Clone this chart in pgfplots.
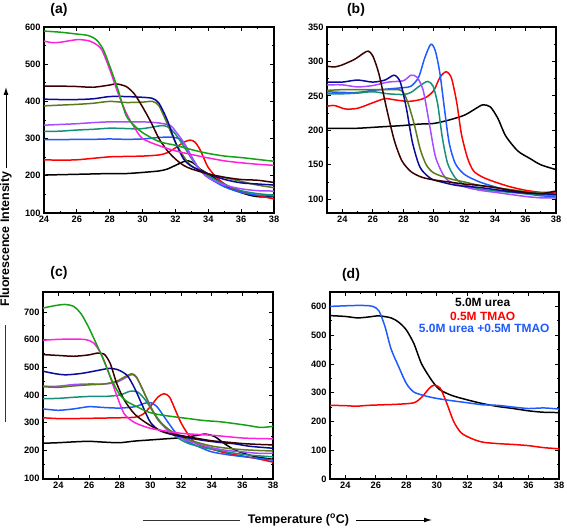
\documentclass[border=0pt]{standalone}
\usepackage{fontspec}
\setmainfont{Liberation Sans}
\usepackage{pgfplots}
\pgfplotsset{compat=1.18}
\usetikzlibrary{arrows.meta}
\definecolor{cred}{HTML}{FF0000}
\definecolor{cblue}{HTML}{1E5BFF}
\definecolor{cteal}{HTML}{17907A}
\definecolor{cpurple}{HTML}{A64DFF}
\definecolor{colive}{HTML}{5A7A1B}
\definecolor{cnavy}{HTML}{0A0A99}
\definecolor{cmaroon}{HTML}{3A0000}
\definecolor{cmagenta}{HTML}{FF22DD}
\definecolor{cgreen}{HTML}{16A016}
\pgfplotsset{
  panel/.style={
    scale only axis, anchor=south west,
    width=230bp, height=186bp,
    tick align=inside,
    xtick={24,26,...,38},
    minor x tick num=1, minor y tick num=1,
    major tick length=4bp, minor tick length=2.2bp,
    tick style={black, line width=0.8pt},
    axis line style={line width=1.3pt},
    ticklabel style={font=\fontsize{9.3}{10}\selectfont\bfseries},
    /pgf/number format/assume math mode=true,
    every axis plot/.append style={line width=1.5pt, no markers, smooth, tension=0.45, line join=round},
  }
}
\begin{document}
\begin{tikzpicture}[x=1bp,y=1bp]
\useasboundingbox (0,0) rectangle (567,528);
% ---------------- (a)
\begin{axis}[panel, at={(44bp,315bp)}, xmin=24, xmax=38, ymin=100, ymax=600, ytick={100,200,...,600}]
\addplot[black] coordinates {(24,202)(25,203)(26,204)(27,205)(28,206)(29,206)(30,209)(31,213)(31.5,218)(32,228)(32.5,238)(32.8,240)(33.1,234)(33.5,218)(34,205)(34.5,190)(35,175)(35.5,163)(36,155)(36.5,148)(37,144)(37.5,143)(38,144)};
\addplot[cred] coordinates {(24,243)(25,242)(26,243)(27,247)(28,251)(29,252)(30,253)(31,256)(31.5,262)(32,275)(32.5,290)(32.9,296)(33.2,290)(33.5,270)(33.8,240)(34,222)(34.5,195)(35,178)(35.5,165)(36,157)(37,147)(38,138)};
\addplot[cblue] coordinates {(24,297)(25,297)(26,298)(27,298)(28,299)(29,298)(30,299)(31,303)(31.8,304)(32.3,298)(32.7,275)(33,250)(33.5,215)(34,195)(35,170)(36,155)(37,148)(38,146)};
\addplot[cteal] coordinates {(24,319)(25,320)(26,323)(27,325)(28,328)(29,327)(29.8,326)(30.5,330)(31.2,335)(31.6,330)(32,312)(32.5,280)(33,245)(33.5,215)(34,200)(35,177)(36,160)(37,152)(38,148)};
\addplot[cpurple] coordinates {(24,336)(25,338)(26,340)(27,343)(28,345)(29,345)(30,345)(31,342)(31.7,335)(32,320)(32.5,290)(33,248)(33.5,215)(34,195)(35,175)(36,165)(37,160)(38,159)};
\addplot[colive] coordinates {(24,388)(25,390)(26,392)(27,395)(28,400)(29,397)(30,398)(30.6,400)(31,388)(31.5,340)(32,290)(32.5,252)(33,226)(34,205)(35,195)(36,185)(37,175)(38,168)};
\addplot[cnavy] coordinates {(24,406)(25,405)(26,405)(27,407)(28,413)(29,413)(30,411)(30.6,408)(31,395)(31.5,350)(32,290)(32.5,245)(33,225)(34,205)(35,190)(36,181)(37,178)(38,175)};
\addplot[cmaroon] coordinates {(24,441)(25,441)(26,440)(27,438)(28,444)(28.4,447)(29,440)(29.5,420)(30,385)(30.5,345)(31,300)(31.5,268)(32,245)(32.5,228)(33,218)(34,205)(35,196)(36,190)(37,188)(38,182)};
\addplot[cmagenta] coordinates {(24,562)(24.5,558)(25,559)(26,566)(26.6,564)(27,558)(27.5,540)(28,486)(28.5,423)(29,369)(29.5,330)(30,300)(31,281)(32,267)(33,257)(34,248)(35,240)(36,235)(37,231)(38,228)};
\addplot[cgreen] coordinates {(24,589)(25,586)(26,581)(26.7,577)(27.2,565)(27.6,540)(28,495)(28.5,432)(29,362)(29.5,335)(30,316)(31,292)(32,282)(33,270)(34,260)(35,253)(36,249)(37,244)(38,239)};
\end{axis}
% ---------------- (b)
\begin{axis}[panel, at={(327bp,315bp)}, width=229bp, xmin=23, xmax=38, ymin=80, ymax=350, ytick={100,150,...,350}]
\addplot[black] coordinates {(23,203)(24,203)(25,203)(26.5,205)(28,207)(29,209)(30,210)(31,215)(32,222)(32.7,231)(33.2,237)(33.7,234)(34.2,217)(34.7,192)(35.5,170)(36.3,159)(37,150)(38,143)};
\addplot[cred] coordinates {(23,235)(23.5,236)(24.2,231)(25,232)(26,240)(26.8,246)(27.5,244)(28.3,242)(29,244)(29.5,248)(30,258)(30.4,277)(30.8,285)(31.15,276)(31.5,240)(31.8,195)(32.2,160)(32.6,141)(33.2,132)(34,125)(35,118)(36,113)(37,110)(38,110)};
\addplot[cblue] coordinates {(23,256)(24,255)(25,255)(26,258)(27,260)(28,262)(28.5,264)(29,277)(29.4,305)(29.8,325)(30.1,315)(30.4,282)(30.7,230)(31,182)(31.4,152)(32,136)(33,125)(34,118)(35,112)(36,108)(37,105)(38,104)};
\addplot[cteal] coordinates {(23,253)(24,253)(25,254)(26,256)(27,253)(28,252)(28.5,255)(29.1,265)(29.6,271)(29.95,264)(30.25,238)(30.55,190)(30.9,152)(31.4,131)(32,121)(33,115)(34,112)(35,110)(36,108)(37,107)(38,105)};
\addplot[cpurple] coordinates {(23,266)(24,266)(25,263)(26,265)(27,270)(28,272)(28.5,280)(28.9,277)(29.3,258)(29.7,210)(30.1,162)(30.6,136)(31,126)(32,118)(33,113)(34,110)(35,107)(36,104)(37,102)(38,102)};
\addplot[colive] coordinates {(23,258)(24,259)(25,259)(26,259)(27,259)(27.7,259)(28,255)(28.3,240)(28.7,210)(29.1,173)(29.5,150)(30,138)(31,130)(32,125)(33,120)(34,117)(35,114)(36,111)(37,109)(38,108)};
\addplot[cnavy] coordinates {(23,270)(24,270)(25,273)(26,270)(26.8,273)(27.4,280)(27.8,270)(28.2,232)(28.6,182)(29.1,146)(29.8,130)(30.5,125)(31.5,120)(33,117)(34,114)(35,111)(36,109)(37,108)(38,107)};
\addplot[cmaroon] coordinates {(23,293)(23.5,292)(24,295)(24.8,303)(25.4,312)(25.7,315)(26,308)(26.4,282)(26.9,232)(27.4,186)(27.9,156)(28.5,140)(29.2,132)(30,128)(31,125)(32,122)(33,120)(34,117)(35,113)(36,110)(37,108)(38,112)};
\end{axis}
% ---------------- (c)
\begin{axis}[panel, at={(43bp,49bp)}, height=187bp, xmin=23, xmax=38, ymin=97, ymax=772, ytick={100,200,...,700}]
\addplot[black] coordinates {(23,226)(24,228)(25,231)(26,233)(27,230)(28,228)(29,234)(30,238)(31,242)(32,246)(33,254)(33.6,259)(34.2,250)(34.8,226)(35.5,202)(36.3,186)(37,176)(38,168)};
\addplot[cred] coordinates {(23,318)(24,315)(25,315)(26,316)(27,317)(28,318)(29,320)(29.5,330)(30,358)(30.5,393)(30.9,405)(31.25,393)(31.6,350)(32,300)(32.5,255)(33,225)(34,205)(35,190)(36,180)(37,170)(38,158)};
\addplot[cblue] coordinates {(23,350)(24,345)(25,350)(26,358)(27,355)(28,353)(29,358)(29.6,370)(30,373)(30.4,360)(30.8,330)(31.3,290)(31.8,255)(32.5,230)(33.3,210)(34,195)(35,185)(36,178)(37,172)(38,165)};
\addplot[cteal] coordinates {(23,387)(24,388)(25,392)(26,395)(27,395)(28,400)(28.7,414)(29.2,410)(29.7,380)(30.3,330)(31,280)(31.8,245)(32.5,225)(33.5,210)(34.5,200)(35.5,190)(36.5,183)(38,177)};
\addplot[cpurple] coordinates {(23,432)(24,432)(25,438)(26,440)(27,440)(27.8,446)(28.4,463)(28.8,474)(29.1,463)(29.5,420)(30,360)(30.5,310)(31.2,270)(32,245)(33,225)(34,210)(35,200)(36,195)(37,190)(38,190)};
\addplot[colive] coordinates {(23,430)(24,428)(25,433)(26,437)(27,440)(27.8,450)(28.4,468)(28.8,477)(29.1,465)(29.5,420)(30,360)(30.5,312)(31.2,276)(32,250)(33,230)(34,216)(35,208)(36,203)(37,200)(38,198)};
\addplot[cnavy] coordinates {(23,486)(23.8,477)(24.5,473)(25.5,478)(26.5,488)(27.3,496)(27.9,491)(28.5,470)(29,422)(29.5,360)(30,302)(30.6,272)(31.5,256)(32.5,245)(33.5,236)(34.5,229)(35.5,224)(36.5,215)(38,208)};
\addplot[cmaroon] coordinates {(23,546)(24,543)(25,540)(26,545)(26.5,551)(27,547)(27.4,512)(27.8,443)(28.3,382)(29,330)(30,290)(31,265)(32,254)(33,244)(34,235)(35,230)(36,225)(37,222)(38,220)};
\addplot[cmagenta] coordinates {(23,598)(24,601)(25,602)(25.8,600)(26.3,588)(26.8,548)(27.3,478)(27.8,400)(28.3,332)(29,300)(30,280)(31,270)(32,262)(33,258)(34,255)(35,250)(36,245)(37,243)(38,242)};
\addplot[cgreen] coordinates {(23,714)(23.7,722)(24.4,727)(25,720)(25.5,692)(26,642)(26.5,582)(27,520)(27.5,452)(28,402)(28.5,376)(29.2,356)(29.8,340)(30.5,330)(31.5,322)(32.5,315)(33.5,308)(34.5,304)(35.5,297)(36.5,289)(37.2,283)(38,287)};
\end{axis}
% ---------------- (d)
\begin{axis}[panel, at={(330bp,49bp)}, width=229bp, height=187bp, xmin=23, xmax=38, ymin=0, ymax=650, ytick={0,100,...,600}]
\addplot[black] coordinates {(23,568)(24,565)(24.8,560)(25.5,563)(26.2,567)(27,560)(27.5,545)(28,518)(28.5,470)(29,400)(29.7,340)(30.2,310)(31,290)(32,275)(33,262)(34,252)(35,245)(36,237)(37,232)(38,231)};
\addplot[cred] coordinates {(23,256)(24,255)(24.7,253)(25.5,256)(26.5,258)(27.5,260)(28.5,265)(29,284)(29.5,315)(29.8,326)(30.2,317)(30.6,270)(31.1,200)(31.6,160)(32.3,140)(33,128)(34,123)(35,120)(36,116)(37,109)(38,105)};
\addplot[cblue] coordinates {(23,600)(24,602)(24.5,603)(25.3,603)(25.8,600)(26.2,585)(26.6,530)(27,452)(27.5,390)(28,332)(28.5,302)(29.3,288)(30,280)(31,272)(32,265)(33,258)(34,256)(35,250)(36,245)(37,247)(38,243)};
\node[font=\fontsize{12}{13}\selectfont\bfseries, text=black] at (axis cs:33,613) {5.0M urea};
\node[font=\fontsize{12}{13}\selectfont\bfseries, text=cred] at (axis cs:33,564) {0.5M TMAO};
\node[font=\fontsize{12}{13}\selectfont\bfseries, text=cblue] at (axis cs:33.1,522) {5.0M urea +0.5M TMAO};
\end{axis}
% ---------------- panel titles
\node[font=\fontsize{14}{16}\selectfont\bfseries] at (59,518) {(a)};
\node[font=\fontsize{14}{16}\selectfont\bfseries] at (356,518) {(b)};
\node[font=\fontsize{14}{16}\selectfont\bfseries] at (59,255) {(c)};
\node[font=\fontsize{14}{16}\selectfont\bfseries] at (351,253) {(d)};
% ---------------- axis labels
\node[font=\fontsize{12.5}{14}\selectfont\bfseries, rotate=90] at (6,289) {Fluorescence Intensity};
\draw[line width=1pt, -{Latex[length=8pt,width=5pt]}] (6,360) -- (6,441);
\draw[line width=0.8pt, black!80] (5,106) -- (5,203);
\node[font=\fontsize{12.5}{14}\selectfont\bfseries] at (298.5,8) {Temperature (\textsuperscript{o}C)};
\draw[line width=0.8pt, black!80] (143,8) -- (240,8);
\draw[line width=1pt, -{Latex[length=8pt,width=5pt]}] (356,8) -- (432,8);
\end{tikzpicture}
\end{document}
